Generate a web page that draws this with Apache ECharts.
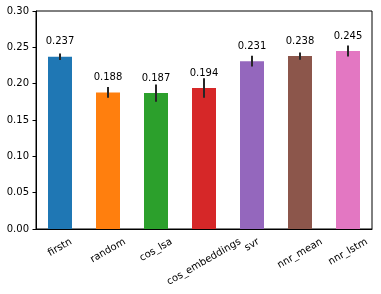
<!DOCTYPE html>
<html>
<head>
<meta charset="utf-8">
<script src="https://cdn.jsdelivr.net/npm/echarts@6/dist/echarts.min.js"></script>
<style>html,body{margin:0;padding:0;background:#fff}#c{width:381px;height:294px}</style>
</head>
<body>
<div id="c"></div>
<script>
var categories = ['firstn', 'random', 'cos_lsa', 'cos_embeddings', 'svr', 'nnr_mean', 'nnr_lstm'];
var values = [0.237, 0.188, 0.187, 0.194, 0.231, 0.238, 0.245];
var errors = [0.0045, 0.0075, 0.012, 0.0135, 0.0075, 0.005, 0.0075];
var colors = ['#1f77b4', '#ff7f0e', '#2ca02c', '#d62728', '#9467bd', '#8c564b', '#e377c2'];
var yTicks = [0, 0.05, 0.10, 0.15, 0.20, 0.25, 0.30];

var FONT = 'DejaVu Sans';
var measureCtx = document.createElement('canvas').getContext('2d');
measureCtx.font = '10px "' + FONT + '"';

var chart = echarts.init(document.getElementById('c'), null, {renderer: 'canvas'});
chart.setOption({
  animation: false,
  backgroundColor: '#fff',
  grid: {left: 36, right: 9, top: 11, bottom: 65, show: true, borderColor: '#000', borderWidth: 1, containLabel: false},
  xAxis: {
    type: 'category',
    data: categories,
    axisLine: {lineStyle: {color: '#000', width: 1}},
    axisTick: {alignWithLabel: true, length: 3.5, lineStyle: {color: '#000'}},
    axisLabel: {show: false}
  },
  yAxis: {
    type: 'value',
    min: yTicks[0],
    max: yTicks[yTicks.length - 1],
    interval: 0.05,
    splitLine: {show: false},
    axisLine: {show: true, lineStyle: {color: '#000', width: 1}},
    axisTick: {show: true, length: 3.5, lineStyle: {color: '#000'}},
    axisLabel: {margin: 7, color: '#000', fontFamily: FONT, fontSize: 10, formatter: function (v) { return v.toFixed(2); }}
  },
  series: [
    {
      type: 'bar',
      barWidth: '50%',
      data: values.map(function (v, i) { return {value: v, itemStyle: {color: colors[i]}}; }),
      label: {
        show: true, position: 'top', distance: 10, color: '#000', fontFamily: FONT, fontSize: 10,
        formatter: function (p) { return p.value.toFixed(3); }
      },
      z: 2
    },
    {
      type: 'custom',
      data: values.map(function (v, i) { return [i, v, errors[i]]; }),
      renderItem: function (params, api) {
        var i = api.value(0), v = api.value(1), e = api.value(2);
        var p1 = api.coord([i, v - e]);
        var p2 = api.coord([i, v + e]);
        return {type: 'line', shape: {x1: p1[0], y1: p1[1], x2: p2[0], y2: p2[1]}, style: {stroke: '#262626', lineWidth: 2}};
      },
      z: 3
    },
    {
      type: 'custom',
      data: categories.map(function (c, i) { return [i, 0]; }),
      clip: false,
      renderItem: function (params, api) {
        var i = api.value(0);
        var p = api.coord([i, 0]);
        var text = categories[i];
        var w = measureCtx.measureText(text).width;
        var h = 11.6;
        var H = w * 0.5 + h * Math.cos(Math.PI / 6);
        return {
          type: 'text', x: p[0], y: p[1] + 7 + H / 2, rotation: Math.PI / 6,
          style: {text: text, fill: '#000', font: '10px "' + FONT + '"', align: 'center', verticalAlign: 'middle'}
        };
      },
      z: 3
    }
  ]
});
</script>
</body>
</html>
